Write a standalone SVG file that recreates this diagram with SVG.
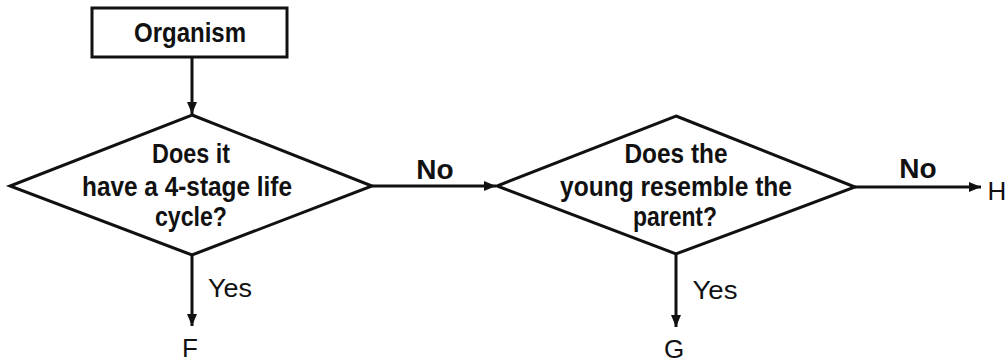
<svg xmlns="http://www.w3.org/2000/svg" width="1008" height="362" viewBox="0 0 1008 362">
<style>
.shape{fill:none;stroke:#111;stroke-width:3;stroke-linejoin:miter}
.conn{fill:none;stroke:#111;stroke-width:3}
.t{font-family:"Liberation Sans",Arial,sans-serif;font-size:27px;font-weight:bold;fill:#111;text-anchor:middle}
.r{font-family:"Liberation Sans",Arial,sans-serif;font-size:26px;fill:#111;text-anchor:middle}
.l{font-family:"Liberation Sans",Arial,sans-serif;font-size:28px;font-weight:bold;fill:#111;text-anchor:middle}
</style>
<defs>
<marker id="ah" viewBox="0 0 12 10" refX="12" refY="5" markerWidth="12" markerHeight="10" markerUnits="userSpaceOnUse" orient="auto">
<path d="M0,0 L12,5 L0,10 Z" fill="#111"/>
</marker>
</defs>
<rect width="1008" height="362" fill="#fff"/>
<g id="organism">
<rect class="shape" x="92" y="8" width="195" height="49" stroke-width="2.5"/>
<text class="t" x="190" y="42" font-size="24.5" textLength="112" lengthAdjust="spacingAndGlyphs">Organism</text>
</g>
<g id="q1">
<polygon class="shape" points="192,115 372,186 192,255 10,186"/>
<text class="t" x="191" y="163" textLength="78" lengthAdjust="spacingAndGlyphs">Does it</text>
<text class="t" x="187" y="196" textLength="210" lengthAdjust="spacingAndGlyphs">have a 4-stage life</text>
<text class="t" x="191" y="226" textLength="72" lengthAdjust="spacingAndGlyphs">cycle?</text>
</g>
<g id="q2">
<polygon class="shape" points="676,116 855,187 676,254 497,186"/>
<text class="t" x="676" y="163" textLength="103" lengthAdjust="spacingAndGlyphs">Does the</text>
<text class="t" x="676" y="196" textLength="232" lengthAdjust="spacingAndGlyphs">young resemble the</text>
<text class="t" x="675" y="226" textLength="84" lengthAdjust="spacingAndGlyphs">parent?</text>
</g>
<g id="F"><text class="r" x="190" y="357" font-size="25">F</text></g>
<g id="G"><text class="r" x="674" y="358" font-size="27">G</text></g>
<g id="H"><text class="r" x="997" y="200" font-size="27">H</text></g>
<g id="connectors">
<line class="conn" x1="192" y1="57" x2="192" y2="114" marker-end="url(#ah)"/>
<line class="conn" x1="372" y1="186" x2="496" y2="186" marker-end="url(#ah)"/>
<line class="conn" x1="855" y1="187" x2="981" y2="187" marker-end="url(#ah)"/>
<line class="conn" x1="192" y1="255" x2="192" y2="326" marker-end="url(#ah)"/>
<line class="conn" x1="676" y1="254" x2="676" y2="327" marker-end="url(#ah)"/>
<text class="l" x="435" y="179">No</text>
<text class="l" x="918" y="178">No</text>
<text class="r" x="230" y="297" textLength="44" lengthAdjust="spacingAndGlyphs" font-size="30">Yes</text>
<text class="r" x="715" y="299" textLength="45" lengthAdjust="spacingAndGlyphs" font-size="30">Yes</text>
</g>
</svg>
